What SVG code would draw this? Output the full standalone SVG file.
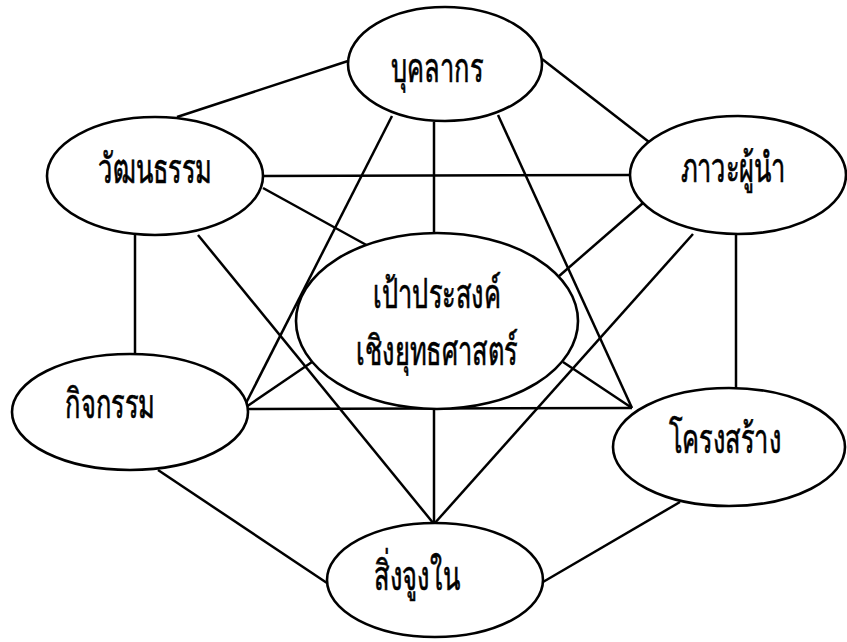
<svg xmlns="http://www.w3.org/2000/svg" width="847" height="642" viewBox="0 0 847 642">
<style>
.n ellipse{fill:#fff;stroke:#000;stroke-width:2.6}
.n text{font-family:"Noto Sans","DejaVu Sans","Liberation Serif",serif;font-size:41px;text-anchor:middle;fill:#000;stroke:#000;stroke-width:0.7}
#edges line{stroke:#000;stroke-width:2.5;fill:none}
</style>
<rect width="847" height="642" fill="#fff"/>
<g id="edges">
<line x1="177" y1="117" x2="348" y2="61"/>
<line x1="542" y1="59" x2="649" y2="142"/>
<line x1="263" y1="176" x2="630" y2="175"/>
<line x1="263" y1="188" x2="370" y2="247"/>
<line x1="198" y1="235" x2="434" y2="524"/>
<line x1="135" y1="235" x2="135" y2="353"/>
<line x1="434" y1="122" x2="434" y2="233"/>
<line x1="392" y1="116" x2="243" y2="409"/>
<line x1="498" y1="115" x2="632" y2="408"/>
<line x1="243" y1="409" x2="632" y2="408"/>
<line x1="243" y1="409" x2="312" y2="362"/>
<line x1="632" y1="408" x2="563" y2="362"/>
<line x1="643" y1="203" x2="558" y2="277"/>
<line x1="693" y1="234" x2="434" y2="524"/>
<line x1="736" y1="234" x2="736" y2="388"/>
<line x1="434" y1="409" x2="434" y2="524"/>
<line x1="158" y1="470" x2="327" y2="583"/>
<line x1="680" y1="502" x2="543" y2="582"/>
</g>
<g id="n-bukalakorn" class="n"><ellipse cx="445" cy="64" rx="97" ry="57"/><text transform="translate(437,82) scale(0.62,1)">บุคลากร</text></g>
<g id="n-watthanatham" class="n"><ellipse cx="155" cy="176" rx="108" ry="59"/><text transform="translate(155,183) scale(0.62,1)">วัฒนธรรม</text></g>
<g id="n-phawaphunam" class="n"><ellipse cx="738" cy="175" rx="108" ry="59"/><text transform="translate(733,182) scale(0.62,1)">ภาวะผู้นำ</text></g>
<g id="n-center" class="n"><ellipse cx="437" cy="321" rx="141" ry="88"/><text transform="translate(437,308) scale(0.62,1)">เป้าประสงค์</text><text transform="translate(437,365) scale(0.62,1)">เชิงยุทธศาสตร์</text></g>
<g id="n-kitchakam" class="n"><ellipse cx="130" cy="412" rx="118" ry="58"/><text transform="translate(110,418) scale(0.62,1)">กิจกรรม</text></g>
<g id="n-khrongsang" class="n"><ellipse cx="729" cy="447" rx="116" ry="59"/><text transform="translate(725,453) scale(0.62,1)">โครงสร้าง</text></g>
<g id="n-singchungjai" class="n"><ellipse cx="435" cy="580" rx="108" ry="57"/><text transform="translate(417,590) scale(0.62,1)">สิ่งจูงใน</text></g>
</svg>
